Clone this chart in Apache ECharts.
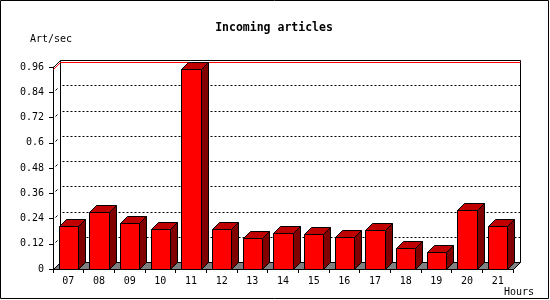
<!DOCTYPE html>
<html><head><meta charset="utf-8">
<script src="https://cdn.jsdelivr.net/npm/echarts@6/dist/echarts.min.js"></script>
<style>html,body{margin:0;padding:0;background:#fff}#c{width:550px;height:300px}</style>
</head><body><div id="c"></div>
<script>
const hours = ['07','08','09','10','11','12','13','14','15','16','17','18','19','20','21'];
const artPerSec = [0.204,0.269,0.219,0.190,0.951,0.190,0.147,0.170,0.165,0.151,0.184,0.098,0.081,0.279,0.204];
const yTicks = [0,0.12,0.24,0.36,0.48,0.6,0.72,0.84,0.96];
const yMin = 0, yMax = 0.96, yStep = 0.12;
const titleText = 'Incoming articles';
const yName = 'Art/sec';
const xName = 'Hours';

const DEPTH = 7;
const FONT = '"DejaVu Sans Mono", monospace';
const p = v => Math.round(v) + 0.5;

const chart = echarts.init(document.getElementById('c'), null, {renderer: 'canvas'});

function renderBackdrop(params, api) {
  const cs = params.coordSys;
  const x0 = cs.x, x1 = cs.x + cs.width, yTop = cs.y, yBot = cs.y + cs.height;
  const D = DEPTH;
  const ch = [];
  ch.push({type: 'polygon', shape: {points: [[p(x0), p(yBot)], [p(x1), p(yBot)], [p(x1 + D), p(yBot - D)], [p(x0 + D), p(yBot - D)]]},
    style: {fill: '#808080', stroke: '#000', lineWidth: 1}});
  yTicks.forEach(t => {
    if (t <= yMin || t >= yMax) return;
    const y = api.coord([0, t])[1];
    ch.push({type: 'line', shape: {x1: p(x0 + D) + 2, y1: p(y - D), x2: p(x1 + D), y2: p(y - D)},
      style: {stroke: '#000', lineWidth: 1, lineDash: [2, 2]}});
    ch.push({type: 'line', shape: {x1: p(x0) + 2, y1: p(y) - 2, x2: p(x0) + 4, y2: p(y) - 4},
      style: {stroke: '#000', lineWidth: 1}});
  });
  ch.push({type: 'polyline', shape: {points: [[p(x0 + D), p(yBot - D)], [p(x0 + D), p(yTop - D)], [p(x1 + D), p(yTop - D)], [p(x1 + D), p(yBot - D)]]},
    style: {stroke: '#000', fill: 'none', lineWidth: 1}});
  ch.push({type: 'line', shape: {x1: p(x0), y1: p(yTop), x2: p(x0 + D), y2: p(yTop - D)}, style: {stroke: '#000', lineWidth: 1}});
  const maxV = Math.max.apply(null, artPerSec);
  const ym = api.coord([0, maxV])[1];
  ch.push({type: 'polyline', shape: {points: [[p(x0), p(ym)], [p(x0 + D), p(ym - D)], [p(x1 + D), p(ym - D)]]},
    style: {stroke: '#ff0000', fill: 'none', lineWidth: 1}});
  return {type: 'group', children: ch};
}

function renderBar(params, api) {
  const idx = api.value(0), v = api.value(1);
  const top = api.coord([idx, v]);
  const base = api.coord([idx, 0]);
  const bw = api.size([1, 0])[0] * 0.62;
  const xl = p(top[0] - bw / 2), xr = p(top[0] + bw / 2);
  const yt = p(top[1]), yb = p(base[1]);
  const D = DEPTH;
  return {type: 'group', children: [
    {type: 'polygon', shape: {points: [[xr, yt], [xr + D, yt - D], [xr + D, yb - D], [xr, yb]]}, style: {fill: '#800000', stroke: '#000', lineWidth: 1}},
    {type: 'polygon', shape: {points: [[xl, yt], [xl + D, yt - D], [xr + D, yt - D], [xr, yt]]}, style: {fill: '#c00000', stroke: '#000', lineWidth: 1}},
    {type: 'rect', shape: {x: xl, y: yt, width: xr - xl, height: yb - yt}, style: {fill: '#ff0000', stroke: '#000', lineWidth: 1}}
  ]};
}

chart.setOption({
  animation: false,
  backgroundColor: '#fff',
  grid: {left: 53, top: 67, width: 460, height: 202, containLabel: false},
  xAxis: {
    type: 'category', data: hours, boundaryGap: true,
    axisLine: {show: true, lineStyle: {color: '#000', width: 1}},
    axisTick: {show: true, length: 4, lineStyle: {color: '#000'}},
    axisLabel: {color: '#000', fontFamily: FONT, fontSize: 10, margin: 7},
    splitLine: {show: false}
  },
  yAxis: {
    type: 'value', min: yMin, max: yMax, interval: yStep,
    axisLine: {show: true, lineStyle: {color: '#000', width: 1}},
    axisTick: {show: true, length: 4, lineStyle: {color: '#000'}},
    axisLabel: {color: '#000', fontFamily: FONT, fontSize: 10, margin: 9},
    splitLine: {show: false}
  },
  graphic: [
    {type: 'rect', shape: {x: 0.5, y: 0.5, width: 548, height: 298}, style: {fill: 'none', stroke: '#000', lineWidth: 1}, z: 100},
    {type: 'text', x: 274, y: 28, style: {text: titleText, fontFamily: FONT, fontWeight: 'bold', fontSize: 11.5, fill: '#000', textAlign: 'center', textVerticalAlign: 'middle'}},
    {type: 'text', x: 30, y: 39, style: {text: yName, fontFamily: FONT, fontSize: 10, fill: '#000', textAlign: 'left', textVerticalAlign: 'middle'}},
    {type: 'text', x: 504, y: 292, style: {text: xName, fontFamily: FONT, fontSize: 10, fill: '#000', textAlign: 'left', textVerticalAlign: 'middle'}}
  ],
  series: [
    {type: 'custom', z: 1, clip: false, silent: true, renderItem: renderBackdrop, data: [[0, 0]], encode: {x: 0, y: 1}},
    {type: 'custom', z: 3, clip: false, renderItem: renderBar, data: artPerSec.map((v, i) => [i, v]), encode: {x: 0, y: 1}}
  ]
});
</script>
</body></html>
